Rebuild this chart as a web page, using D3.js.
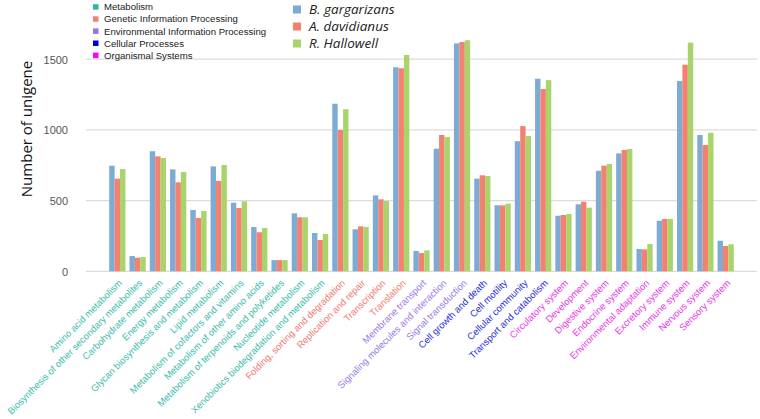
<!DOCTYPE html>
<html><head><meta charset="utf-8">
<script src="https://cdn.jsdelivr.net/npm/d3@7"></script>
<style>body{margin:0;background:#fff}svg{display:block}</style>
</head><body><svg id="c" width="760" height="419"></svg>
<script>
const categories = ["Amino acid metabolism","Biosynthesis of other secondary metabolites","Carbohydrate metabolism","Energy metabolism","Glycan biosynthesis and metabolism","Lipid metabolism","Metabolism of cofactors and vitamins","Metabolism of other amino acids","Metabolism of terpenoids and polyketides","Nucleotide metabolism","Xenobiotics biodegradation and metabolism","Folding, sorting and degradation","Replication and repair","Transcription","Translation","Membrane transport","Signaling molecules and interaction","Signal transduction","Cell growth and death","Cell motility","Cellular community","Transport and catabolism","Circulatory system","Development","Digestive system","Endocrine system","Environmental adaptation","Excretory system","Immune system","Nervous system","Sensory system"];
const groupOf = [0,0,0,0,0,0,0,0,0,0,0,1,1,1,1,2,2,2,3,3,3,3,4,4,4,4,4,4,4,4,4];
const groups = ["Metabolism","Genetic Information Processing","Environmental Information Processing","Cellular Processes","Organismal Systems"];
const species = ["B. gargarizans","A. davidianus","R. Hallowell"];
const bGargarizans = [747,108,849,721,434,742,485,313,79,410,271,1185,297,537,1443,144,867,1612,655,467,920,1362,393,474,711,834,158,358,1346,964,216];
const aDavidianus = [655,96,813,629,377,639,448,276,79,382,221,999,318,509,1436,129,964,1622,679,466,1027,1289,398,492,747,858,155,370,1461,893,179];
const rHallowell = [723,101,801,702,426,752,495,306,79,382,264,1146,313,497,1530,148,950,1634,674,478,957,1352,405,450,759,865,193,370,1617,980,191];
const yTicks = [0,500,1000,1500];

const seriesColors = ["#7eabd4","#f4806f","#a9d46b"];
const groupLegendColors = ["#2fb5a2","#f08279","#9a74de","#0000d8","#ff00ff"];
const labelColors = ["#3dbdab","#f27a70","#9a7be6","#2a2ee0","#e93ae9"];

const svg = d3.select("#c");
const x0 = 86, x1 = 757, yBase = 271.3;
const y = d3.scaleLinear().domain([0,1500]).range([yBase, 59.2]);
const x = d3.scaleBand().domain(categories).range([x0,x1]).paddingInner(0.2).paddingOuter(1.145);
const xs = d3.scaleBand().domain(species).range([0, x.bandwidth()]);

// gridlines
svg.append("g").selectAll("line").data(yTicks).join("line")
  .attr("x1",x0).attr("x2",x1).attr("y1",d=>y(d)).attr("y2",d=>y(d))
  .attr("stroke","#dcdcdc").attr("stroke-width",1.3);

// y axis labels
const yAxis = d3.axisLeft(y).tickValues(yTicks).tickFormat(d3.format("d")).tickSize(0).tickPadding(0);
const gy = svg.append("g").attr("transform",`translate(${x0-18},0)`).call(yAxis);
gy.select(".domain").remove();
gy.selectAll("text").attr("font-family","Liberation Sans, Arial, sans-serif").attr("font-size",11).attr("fill","#555").attr("dy","0.35em");

svg.append("text").attr("transform","translate(32,129) rotate(-90)")
  .attr("text-anchor","middle").attr("font-family","Open Sans, Noto Sans, sans-serif")
  .attr("font-size",15).attr("fill","#111").text("Number of unigene");

// bars
const seriesData = [bGargarizans, aDavidianus, rHallowell];
species.forEach((sp, si) => {
  svg.append("g").selectAll("rect").data(categories).join("rect")
    .attr("x", c => x(c) + xs(sp))
    .attr("width", xs.bandwidth())
    .attr("y", (c,i) => y(seriesData[si][i]))
    .attr("height", (c,i) => yBase - y(seriesData[si][i]))
    .attr("fill", seriesColors[si]);
});

// x labels
const xAxis = d3.axisBottom(x).tickSize(0).tickPadding(0);
const gx = svg.append("g").attr("transform",`translate(0,${yBase+10})`).call(xAxis);
gx.select(".domain").remove();
gx.selectAll("text")
  .attr("font-family","Liberation Sans, Arial, sans-serif").attr("font-size",9.5)
  .attr("text-anchor","end").attr("dy","0.35em").attr("y",0).attr("x",0)
  .attr("transform","translate(3,0) rotate(-45)")
  .attr("fill",(d,i)=>labelColors[groupOf[i]]);

// group legend
const lg = svg.append("g").selectAll("g").data(groups).join("g")
  .attr("transform",(d,i)=>`translate(93,${7+i*12.1})`);
lg.append("rect").attr("x",0).attr("y",-2.8).attr("width",5.5).attr("height",5.5).attr("fill",(d,i)=>groupLegendColors[i]);
lg.append("text").attr("x",11).attr("dy","0.35em").attr("font-family","Liberation Sans, Arial, sans-serif")
  .attr("font-size",9.6).attr("fill","#222").text(d=>d);

// species legend
const sg = svg.append("g").selectAll("g").data(species).join("g")
  .attr("transform",(d,i)=>`translate(293,${9.5+i*17})`);
sg.append("rect").attr("x",0).attr("y",-4).attr("width",8).attr("height",8).attr("fill",(d,i)=>seriesColors[i]);
sg.append("text").attr("x",16).attr("dy","0.35em").attr("font-family","Open Sans, Noto Sans, sans-serif")
  .attr("font-style","italic").attr("font-size",13.5).attr("fill","#222").text(d=>d);
</script></body></html>
